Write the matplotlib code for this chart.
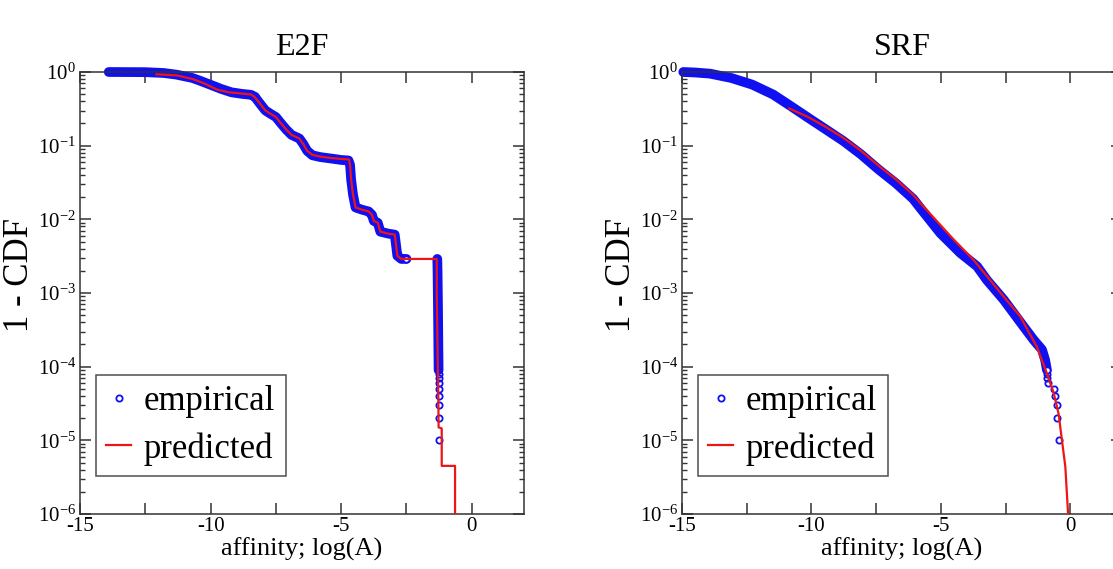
import numpy as np
import matplotlib
matplotlib.use('Agg')
import matplotlib.pyplot as plt
from matplotlib.ticker import MultipleLocator, LogLocator, FuncFormatter, NullFormatter

plt.rcParams['font.family'] = 'Liberation Serif'
plt.rcParams['mathtext.fontset'] = 'custom'
plt.rcParams['mathtext.rm'] = 'Liberation Serif'
plt.rcParams['mathtext.it'] = 'Liberation Serif:italic'
plt.rcParams['axes.unicode_minus'] = False

# ---- E2F ----
# dense part of the empirical curve (points overlap into a band)
e2f_emp_x = [-13.9, -12.5, -11.8, -11.3, -10.7, -10.4, -10.0, -9.6, -9.2, -8.8, -8.45, -8.3,
             -8.2, -8.05, -7.9, -7.7, -7.5, -7.3, -7.1, -6.9, -6.6, -6.45, -6.3, -6.1, -5.8,
             -5.4, -5.0, -4.72, -4.66, -4.62, -4.55, -4.45, -4.2, -3.95, -3.82, -3.75, -3.6,
             -3.5, -3.2, -2.95, -2.9, -2.85, -2.7, -2.5]
e2f_emp_y = [1.0, 0.995, 0.97, 0.92, 0.83, 0.76, 0.67, 0.59, 0.53, 0.505, 0.49, 0.46,
             0.41, 0.35, 0.30, 0.27, 0.245, 0.20, 0.165, 0.14, 0.125, 0.105, 0.085, 0.074, 0.070,
             0.067, 0.064, 0.063, 0.055, 0.035, 0.022, 0.0145, 0.0135, 0.0128, 0.0115, 0.0095, 0.009,
             0.0068, 0.0064, 0.0062, 0.0045, 0.0032, 0.0029, 0.0029]
e2f_col_x = [-1.32, -1.31, -1.30, -1.29, -1.28, -1.27]
e2f_col_y = [0.0029, 0.002, 0.001, 5e-4, 2e-4, 9e-5]
e2f_tail_x = [-1.26, -1.26, -1.25, -1.25, -1.25, -1.24, -1.24, -1.24]
e2f_tail_y = [8e-5, 7e-5, 6e-5, 5e-5, 4e-5, 3e-5, 2e-5, 1e-5]
e2f_pred_x = [-12.07, -11.3, -10.67, -10.2, -9.77, -9.3, -8.8, -8.45, -8.32, -8.2, -8.05, -7.9,
              -7.7, -7.5, -7.3, -7.1, -6.9, -6.6, -6.45, -6.3, -6.1, -5.8, -5.4, -5.0, -4.7,
              -4.66, -4.62, -4.55, -4.45, -4.2, -3.95, -3.82, -3.75, -3.6, -3.5, -3.2, -2.95,
              -2.9, -2.85, -2.7, -2.5, -1.34, -1.34, -1.32, -1.30, -1.28, -1.27, -1.15, -1.15,
              -0.64, -0.64]
e2f_pred_y = [0.93, 0.90, 0.80, 0.69, 0.58, 0.53, 0.51, 0.495, 0.46, 0.41, 0.35, 0.30,
              0.27, 0.245, 0.20, 0.165, 0.14, 0.125, 0.105, 0.085, 0.075, 0.071, 0.068, 0.066, 0.065,
              0.055, 0.035, 0.022, 0.0145, 0.0135, 0.0128, 0.0115, 0.0095, 0.009, 0.0068, 0.0064, 0.0062,
              0.0045, 0.0032, 0.0029, 0.0029, 0.0029, 0.001, 3e-4, 1e-4, 4e-5, 1.5e-5, 1.45e-5, 4.5e-6,
              4.5e-6, 1e-7]

# ---- SRF ----
srf_emp_x = [-14.95, -14.5, -13.92, -13.10, -12.29, -11.48, -10.80, -10.13, -9.45, -8.77, -8.10,
             -7.42, -6.74, -6.07, -5.79, -5.02, -4.25, -3.6, -3.22, -2.57, -2.18, -1.80, -1.41,
             -1.09, -0.97, -0.90]
srf_emp_y = [1.0, 0.985, 0.95, 0.83, 0.675, 0.495, 0.345, 0.24, 0.167, 0.116, 0.077,
             0.048, 0.031, 0.019, 0.0142, 0.0065, 0.0035, 0.0023, 0.0015, 8.1e-4, 5.3e-4, 3.5e-4, 2.3e-4,
             1.7e-4, 1.23e-4, 9e-5]
srf_tail_x = [-0.90, -0.88, -0.86, -0.63, -0.57, -0.50, -0.52, -0.44]
srf_tail_y = [8e-5, 7e-5, 6e-5, 5e-5, 4e-5, 3e-5, 2e-5, 1e-5]
srf_pred_x = [-10.86, -10.13, -9.45, -8.77, -8.10, -7.42, -6.74, -6.07, -5.79, -4.5, -3.73,
              -2.57, -1.93, -1.29, -0.90, -0.64, -0.45, -0.32, -0.19, -0.09, -0.05, -0.04]
srf_pred_y = [0.32, 0.245, 0.18, 0.128, 0.086, 0.054, 0.035, 0.0215, 0.0166, 0.0053, 0.0028,
              8.9e-4, 4.8e-4, 1.86e-4, 8.1e-5, 4.4e-5, 2.3e-5, 1e-5, 4.4e-6, 1.1e-6, 5e-7, 1e-7]

BLUE = '#1010f0'
RED = '#ee1515'
W, H = 1113, 569


def xfmt(v, pos):
    if abs(v / 5 - round(v / 5)) < 1e-6:
        return '%d' % round(v)
    return ''


def panel(rect, title, dense, cols, tail, pred):
    ax = fig.add_axes(rect)
    for xs, ys in [dense] + cols:
        ax.plot(xs, ys, color=BLUE, lw=7, solid_capstyle='round', solid_joinstyle='round',
                zorder=2, clip_on=False)
    h_emp, = ax.plot(tail[0], tail[1], 'o', ms=4.5, mfc='none', mec=BLUE, mew=1.3, ls='none',
                     zorder=3, label='empirical')
    ax.plot(dense[0][-1:], dense[1][-1:], 'o', ms=4.5, mfc='white', mec=BLUE, mew=1.3, zorder=3)
    h_pred, = ax.plot(pred[0], pred[1], color=RED, lw=1.6, zorder=4, label='predicted')

    ax.set_yscale('log')
    ax.set_xlim(-15, 2)
    ax.set_ylim(1e-6, 1)
    ax.xaxis.set_major_locator(MultipleLocator(2.5))
    ax.xaxis.set_major_formatter(FuncFormatter(xfmt))
    ax.yaxis.set_major_locator(LogLocator(base=10, numticks=10))
    ax.yaxis.set_minor_locator(LogLocator(base=10, subs=np.arange(2, 10), numticks=20))
    ax.yaxis.set_minor_formatter(NullFormatter())
    ax.tick_params(which='both', direction='in', top=True, right=True, color='#333333',
                   labelsize=15)
    ax.tick_params(axis='x', pad=2)
    ax.tick_params(axis='y', pad=3)
    ax.tick_params(which='major', length=8, width=1.1)
    ax.tick_params(which='minor', length=3.6, width=1.0)
    for s in ax.spines.values():
        s.set_color('#333333')
        s.set_linewidth(1.1)

    ax.set_title(title, fontsize=23, pad=12)
    ax.set_xlabel('affinity; log(A)', fontsize=19, labelpad=1)
    ax.set_ylabel('1 - CDF', fontsize=25)
    ax.yaxis.set_label_coords(-0.1, 0.54)

    leg = ax.legend(handles=[h_emp, h_pred], loc='lower left', bbox_to_anchor=(0.036, 0.086),
                    borderaxespad=0, fontsize=25, frameon=True, fancybox=False,
                    handlelength=0.72, handletextpad=0.36, labelspacing=0.4, borderpad=0.3)
    leg.get_frame().set_edgecolor('#222222')
    leg.get_frame().set_linewidth(1.1)
    return ax


fig = plt.figure(figsize=(W / 100, H / 100), dpi=100)
bottom = (H - 514) / H
height = 442 / H
panel([80 / W, bottom, 444 / W, height], 'E2F',
      (e2f_emp_x, e2f_emp_y), [(e2f_col_x, e2f_col_y)], (e2f_tail_x, e2f_tail_y),
      (e2f_pred_x, e2f_pred_y))
panel([682 / W, bottom, 440 / W, height], 'SRF',
      (srf_emp_x, srf_emp_y), [], (srf_tail_x, srf_tail_y),
      (srf_pred_x, srf_pred_y))

fig.savefig('out.png', dpi=100)
